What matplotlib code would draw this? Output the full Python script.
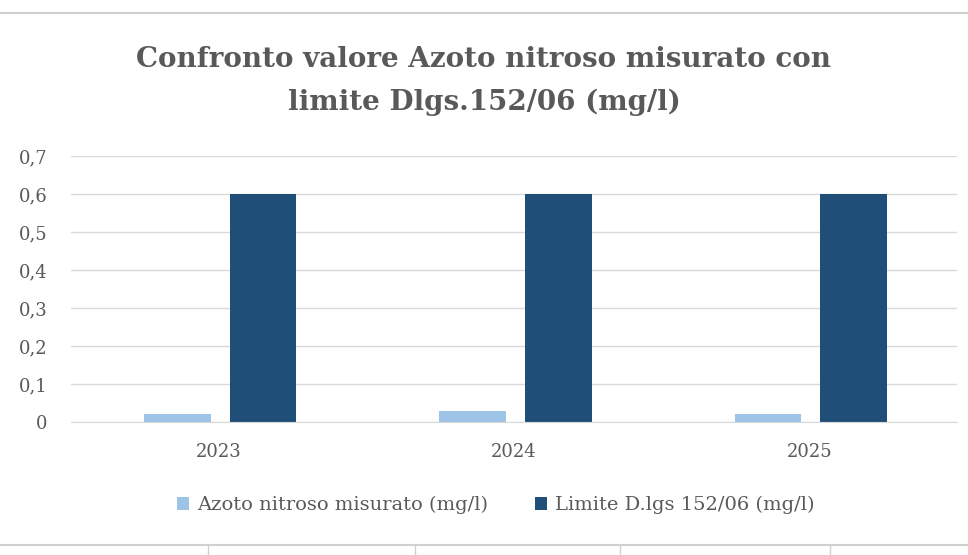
import numpy as np
import matplotlib.pyplot as plt
from matplotlib.ticker import FuncFormatter, MultipleLocator
from matplotlib.lines import Line2D

anni = ['2023', '2024', '2025']
misurato = [0.02, 0.03, 0.02]
limite = [0.6, 0.6, 0.6]

plt.rcParams['font.family'] = ['DejaVu Serif']
grigio = '#595959'

fig = plt.figure(figsize=(9.68, 5.55), dpi=100)
ax = fig.add_axes([0.0735, 0.2396, 0.915, 0.4794])

x = np.arange(len(anni))
w = 0.225
ax.bar(x - 0.14, misurato, w, color='#9dc3e6', label='Azoto nitroso misurato (mg/l)')
ax.bar(x + 0.15, limite, w, color='#1f4e79', label='Limite D.lgs 152/06 (mg/l)')

ax.set_xlim(-0.5, 2.5)
ax.set_ylim(0, 0.7)
ax.yaxis.set_major_locator(MultipleLocator(0.1))
ax.yaxis.set_major_formatter(FuncFormatter(lambda v, p: '0' if v == 0 else f'{v:.1f}'.replace('.', ',')))
ax.set_xticks(x)
ax.set_xticklabels(anni)
ax.grid(axis='y', color='#d9d9d9', lw=1)
ax.set_axisbelow(True)
for s in ['top', 'right', 'left']:
    ax.spines[s].set_visible(False)
ax.spines['bottom'].set_color('#d9d9d9')
ax.tick_params(axis='both', length=0, colors=grigio, labelsize=13)
ax.tick_params(axis='y', pad=17)
ax.tick_params(axis='x', pad=15)

fig.suptitle('Confronto valore Azoto nitroso misurato con\nlimite Dlgs.152/06 (mg/l)',
             y=0.918, fontsize=20, fontweight='bold', color=grigio, linespacing=1.75)

fig.legend(loc='center', bbox_to_anchor=(0.512, 0.09), ncol=2, frameon=False,
           fontsize=14, labelcolor=grigio, handlelength=0.65, handleheight=0.65,
           columnspacing=2.4, handletextpad=0.4)

# bordi del foglio
fig.add_artist(Line2D([0, 1], [1 - 13 / 555, 1 - 13 / 555], color='#d0d0d0', lw=1.5))
fig.add_artist(Line2D([0, 1], [10 / 555, 10 / 555], color='#d0d0d0', lw=1.5))
for px in [208, 415, 620, 830]:
    fig.add_artist(Line2D([px / 968, px / 968], [0, 10 / 555], color='#d0d0d0', lw=1))

fig.savefig('out.png', dpi=100)
